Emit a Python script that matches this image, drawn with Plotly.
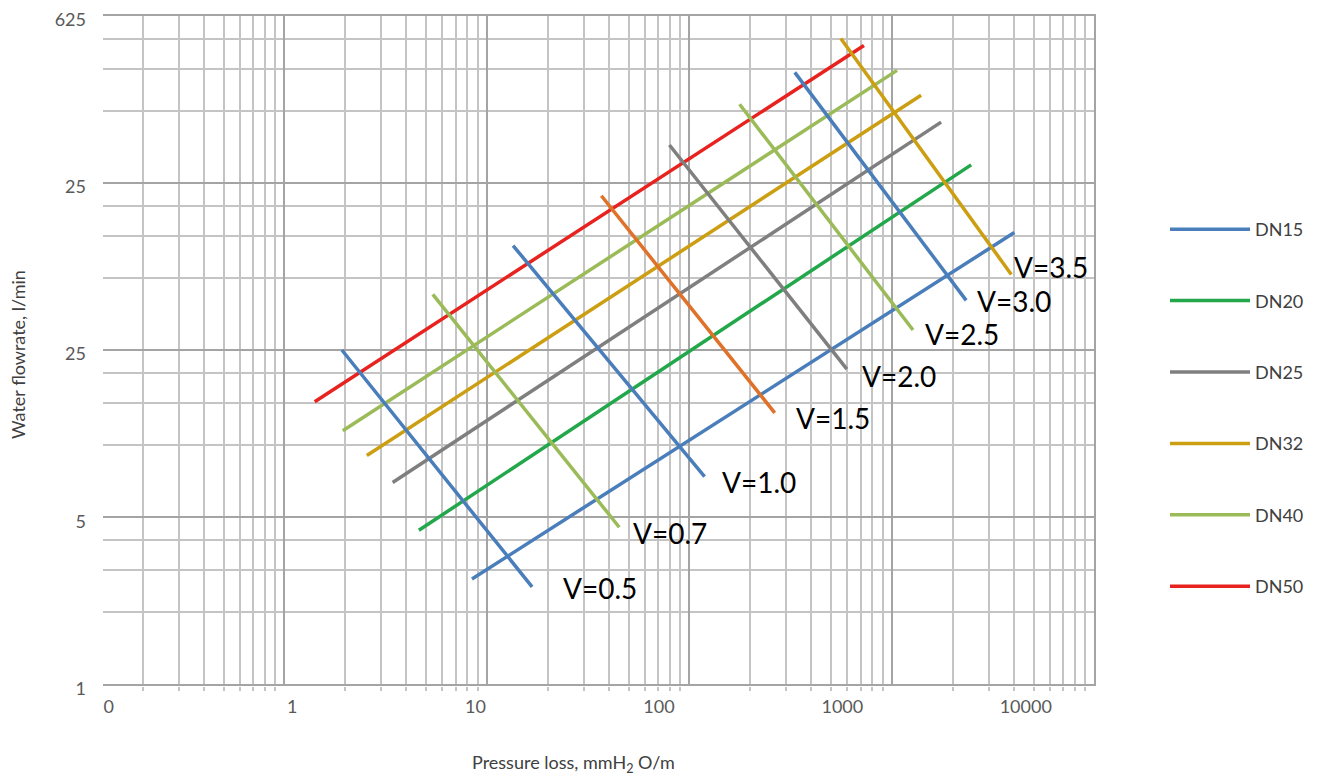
import math
import plotly.graph_objects as go

# ---------------- data ----------------
pipe_names = ["DN15", "DN20", "DN25", "DN32", "DN40", "DN50"]
pipe_dp_start = [8.43, 4.61, 3.42, 2.55, 1.94, 1.41]        # mmH2O/m
pipe_q_start = [2.76, 4.41, 6.99, 9.05, 11.5, 15.2]          # l/min
pipe_dp_end = [4018, 2460, 1748, 1392, 1059, 727]
pipe_q_end = [77.4, 148.4, 224, 290, 368.6, 468.6]

vel_labels = ["V=0.5", "V=0.7", "V=1.0", "V=1.5", "V=2.0", "V=2.5", "V=3.0", "V=3.5"]
vel_dp_start = [1.92, 5.40, 13.45, 36.7, 79.6, 176.8, 331, 559]
vel_q_start = [25.0, 42.7, 68.3, 110.3, 179.7, 266, 361.5, 500.9]
vel_dp_end = [16.7, 45.0, 118.7, 263.6, 598.6, 1270, 2324, 3882]
vel_q_end = [2.56, 4.54, 7.40, 13.66, 20.8, 30.3, 40.3, 51.7]

x_tick_text = ["0", "1", "10", "100", "1000", "10000"]
y_tick_vals = [1, 5, 25, 125, 625]
y_tick_text = ["1", "5", "25", "25", "625"]

# ---------------- styles ----------------
pipe_colors = ["#4a7ebb", "#22a74b", "#7f7f7f", "#cc9e12", "#9bbb59", "#e8231f"]
vel_colors = ["#4a7ebb", "#9bbb59", "#4a7ebb", "#e07128", "#7f7f7f", "#9bbb59", "#4a7ebb", "#cc9e12"]
label_shift = [(29, -1), (12, -6), (15, -5), (19, -5), (13, -7), (10, -4), (9, -1), (1, 7)]

FONT = "Lato"
MAJOR = "#a4a4a4"
MINOR = "#c4c4c4"

# the page body has an 8 px default margin; the figure is sized so that the
# plot area lands on page pixels x 103..1096, y 14..686
BODY = 8
W, H = 1329 - BODY, 778 - BODY
PL, PR, PT, PB = 103, 1096, 14, 686          # plot area in page pixels
PW, PH = PR - PL, PB - PT


def px_x(p):
    return (p - PL) / PW


def px_y(p):
    return (PB - p) / PH


# small pad so that the edge grid lines (10000 / 625 / 1) are still drawn
X_LO, X_HI = math.log10(0.127), 4.0
Y_LO, Y_HI = 0.0, math.log10(625)
x_pad = 1.5 * (X_HI - X_LO) / PW
y_pad = 1.5 * (Y_HI - Y_LO) / PH

x_minor = [m * 10 ** e for e in range(-1, 4) for m in range(2, 10)]
y_minor = [m * 5 ** e for e in range(0, 4) for m in (2, 3, 4)]

fig = go.Figure()

for name, c, x0, y0, x1, y1 in zip(pipe_names, pipe_colors, pipe_dp_start, pipe_q_start,
                                    pipe_dp_end, pipe_q_end):
    fig.add_trace(go.Scatter(x=[x0, x1], y=[y0, y1], mode="lines", name=name,
                             legendgroup=name, line=dict(color=c, width=3.5)))

for lab, c, x0, y0, x1, y1 in zip(vel_labels, vel_colors, vel_dp_start, vel_q_start,
                                   vel_dp_end, vel_q_end):
    fig.add_trace(go.Scatter(x=[x0, x1], y=[y0, y1], mode="lines", name=lab,
                             showlegend=False, line=dict(color=c, width=3.5)))

# dummy trace so the label axis is drawn
fig.add_trace(go.Scatter(x=[None], y=[None], xaxis="x2", yaxis="y", showlegend=False,
                         hoverinfo="skip"))

for lab, x1, y1, (dx, dy) in zip(vel_labels, vel_dp_end, vel_q_end, label_shift):
    fig.add_annotation(x=math.log10(x1), y=math.log10(y1), text=lab, showarrow=False,
                       xanchor="left", yanchor="middle", xshift=dx, yshift=dy,
                       font=dict(family=FONT, size=28, color="#000000"))

fig.add_annotation(xref="paper", yref="paper", x=px_x(18), y=px_y(355),
                   text="Water flowrate, l/min", textangle=-90, showarrow=False,
                   xanchor="center", yanchor="middle",
                   font=dict(family=FONT, size=18, color="#404040"))
fig.add_annotation(xref="paper", yref="paper", x=px_x(573), y=px_y(763),
                   text="Pressure loss, mmH<sub>2</sub> O/m", showarrow=False,
                   xanchor="center", yanchor="middle",
                   font=dict(family=FONT, size=18, color="#404040"))

fig.update_layout(
    width=W, height=H, autosize=False,
    margin=dict(l=PL - BODY, r=W - (PR - BODY), t=PT - BODY, b=H - (PB - BODY),
                autoexpand=False),
    paper_bgcolor="white", plot_bgcolor="white",
    font=dict(family=FONT, size=18, color="#595959"),
    showlegend=True,
    legend=dict(x=px_x(1165), xanchor="left", y=px_y(211), yanchor="top",
                font=dict(family=FONT, size=18, color="#404040"),
                tracegroupgap=45, itemwidth=80, bgcolor="rgba(0,0,0,0)"),
    xaxis=dict(type="log", range=[X_LO, X_HI + x_pad], dtick=1, automargin=False,
               showticklabels=False, ticks="", showgrid=True, gridcolor=MAJOR, gridwidth=2,
               zeroline=False, showline=False,
               minor=dict(tickmode="array", tickvals=x_minor, showgrid=True,
                          gridcolor=MINOR, gridwidth=2, ticks="outside", ticklen=4,
                          tickcolor=MINOR, tickwidth=2)),
    xaxis2=dict(overlaying="x", anchor="y", side="bottom", range=[-0.031, 5.383],
                automargin=False,
                tickmode="array", tickvals=list(range(len(x_tick_text))),
                ticktext=x_tick_text, showgrid=False, zeroline=False, showline=False,
                ticks="", ticklabelstandoff=8, ticklabeloverflow="allow",
                tickfont=dict(family=FONT, size=18, color="#595959")),
    yaxis=dict(type="log", range=[Y_LO - y_pad, Y_HI + y_pad], automargin=False,
               tickmode="array", tickvals=y_tick_vals, ticktext=y_tick_text,
               showgrid=True, gridcolor=MAJOR, gridwidth=2, zeroline=False, showline=False,
               ticks="", ticklabelstandoff=16, ticklabelshift=4, ticklabeloverflow="allow",
               tickfont=dict(family=FONT, size=18, color="#595959"),
               minor=dict(tickmode="array", tickvals=y_minor, showgrid=True,
                          gridcolor=MINOR, gridwidth=2)),
)

fig.write_html("out.html")
